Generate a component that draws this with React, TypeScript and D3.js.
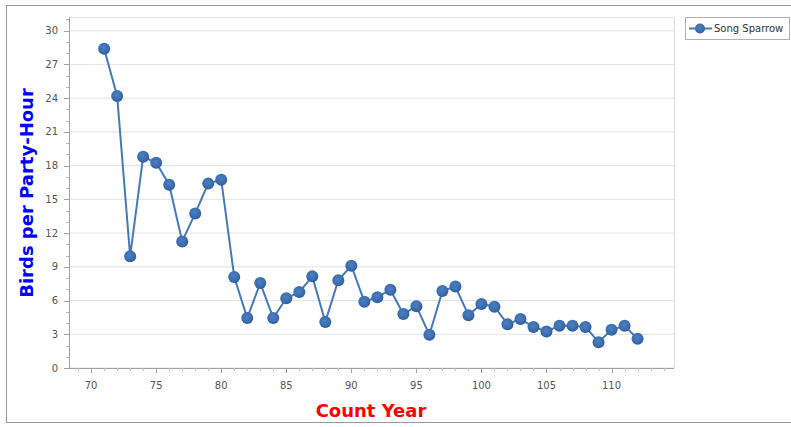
import React from 'react';
import * as d3 from 'd3';

// Song Sparrow, birds per party-hour by count year
const years = [
  71, 72, 73, 74, 75, 76, 77, 78, 79, 80,
  81, 82, 83, 84, 85, 86, 87, 88, 89, 90,
  91, 92, 93, 94, 95, 96, 97, 98, 99, 100,
  101, 102, 103, 104, 105, 106, 107, 108, 109, 110,
  111, 112,
];
const birdsPerHour = [
  28.4, 24.2, 9.95, 18.8, 18.25, 16.3, 11.25, 13.75, 16.4, 16.75,
  8.1, 4.45, 7.55, 4.45, 6.2, 6.75, 8.15, 4.1, 7.8, 9.1,
  5.9, 6.3, 6.95, 4.8, 5.5, 2.95, 6.85, 7.25, 4.7, 5.7,
  5.45, 3.9, 4.35, 3.65, 3.25, 3.75, 3.75, 3.65, 2.3, 3.4,
  3.75, 2.6,
];
const xTicks = [70, 75, 80, 85, 90, 95, 100, 105, 110];
const yTicks = [0, 3, 6, 9, 12, 15, 18, 21, 24, 27, 30];
const seriesName = 'Song Sparrow';

const W = 791;
const H = 427;
const plot = { left: 69, right: 674, top: 17, bottom: 368 };

export default function App() {
  const x = d3.scaleLinear().domain([68.3, 114.8]).range([plot.left, plot.right]);
  const y = d3.scaleLinear().domain([0, 31.22]).range([plot.bottom, plot.top]);

  const pts = years.map((yr, i) => ({ yr, v: birdsPerHour[i] }));
  const line = d3.line<{ yr: number; v: number }>()
    .x(d => x(d.yr))
    .y(d => y(d.v));

  const minorX = d3.range(69, 115, 1).filter(v => v % 5 !== 0);
  const minorY = d3.range(0, 32, 1).filter(v => v % 3 !== 0);
  const tickFont = '"DejaVu Sans", Verdana, sans-serif';

  return (
    <svg width={W} height={H} style={{ position: 'absolute', left: 0, top: 0, background: '#fff' }}>
      <defs>
        <radialGradient id="dot" cx="45%" cy="40%" r="60%">
          <stop offset="0%" stopColor="#4d80c0" />
          <stop offset="70%" stopColor="#3a6cae" />
          <stop offset="100%" stopColor="#2d5b98" />
        </radialGradient>
      </defs>
      {/* outer frame */}
      <rect x={6.5} y={5.5} width={800} height={417} fill="none" stroke="#9a9a9a" />

      {/* grid */}
      {yTicks.map(t => (
        <line key={'g' + t} x1={plot.left} x2={plot.right} y1={y(t)} y2={y(t)} stroke="#e3e3e3" strokeWidth={1} />
      ))}
      <line x1={plot.left} x2={plot.right} y1={plot.top + 0.5} y2={plot.top + 0.5} stroke="#e3e3e3" />
      <line x1={plot.right + 0.5} x2={plot.right + 0.5} y1={plot.top} y2={plot.bottom} stroke="#dcdcdc" />

      {/* y axis */}
      <line x1={plot.left + 0.5} x2={plot.left + 0.5} y1={plot.top} y2={plot.bottom} stroke="#a0a0a0" />
      {yTicks.map(t => (
        <g key={'y' + t}>
          <line x1={plot.left - 5} x2={plot.left} y1={Math.round(y(t)) + 0.5} y2={Math.round(y(t)) + 0.5} stroke="#a0a0a0" />
          <text x={plot.left - 11} y={y(t)} dy="0.35em" textAnchor="end" fontFamily={tickFont} fontSize={10} fill="#555">
            {t}
          </text>
        </g>
      ))}
      {minorY.map(t => (
        <line key={'my' + t} x1={plot.left - 3} x2={plot.left} y1={Math.round(y(t)) + 0.5} y2={Math.round(y(t)) + 0.5} stroke="#b8b8b8" />
      ))}

      {/* x axis */}
      <line x1={plot.left} x2={plot.right} y1={plot.bottom + 0.5} y2={plot.bottom + 0.5} stroke="#a0a0a0" />
      {xTicks.map(t => (
        <g key={'x' + t}>
          <line x1={Math.round(x(t)) + 0.5} x2={Math.round(x(t)) + 0.5} y1={plot.bottom} y2={plot.bottom + 5} stroke="#a0a0a0" />
          <text x={x(t)} y={plot.bottom + 21} textAnchor="middle" fontFamily={tickFont} fontSize={10} fill="#555">
            {t}
          </text>
        </g>
      ))}
      {minorX.map(t => (
        <line key={'mx' + t} x1={Math.round(x(t)) + 0.5} x2={Math.round(x(t)) + 0.5} y1={plot.bottom} y2={plot.bottom + 3} stroke="#c0c0c0" />
      ))}

      {/* series */}
      <path d={line(pts) || ''} fill="none" stroke="#4679b9" strokeWidth={2} />
      {pts.map(p => (
        <circle key={p.yr} cx={x(p.yr)} cy={y(p.v)} r={6} fill="url(#dot)" />
      ))}

      {/* axis titles */}
      <text
        transform={`translate(33,${(plot.top + plot.bottom) / 2 + 0.5}) rotate(-90)`}
        textAnchor="middle"
        fontFamily='"DejaVu Sans", Verdana, sans-serif'
        fontWeight="bold"
        fontSize={18}
        fill="#0000ff"
      >
        Birds per Party-Hour
      </text>
      <text
        x={371}
        y={417}
        textAnchor="middle"
        fontFamily='"DejaVu Sans", Verdana, sans-serif'
        fontWeight="bold"
        fontSize={18}
        fill="#ff0000"
      >
        Count Year
      </text>

      {/* legend */}
      <rect x={685.5} y={17.5} width={104} height={22} fill="#fff" stroke="#b0b0b0" />
      <line x1={689} x2={712} y1={28.5} y2={28.5} stroke="#4679b9" strokeWidth={2} />
      <circle cx={700} cy={28.5} r={5} fill="url(#dot)" />
      <text x={714} y={28.5} dy="0.35em" fontFamily={tickFont} fontSize={10} fill="#333">
        {seriesName}
      </text>
    </svg>
  );
}
